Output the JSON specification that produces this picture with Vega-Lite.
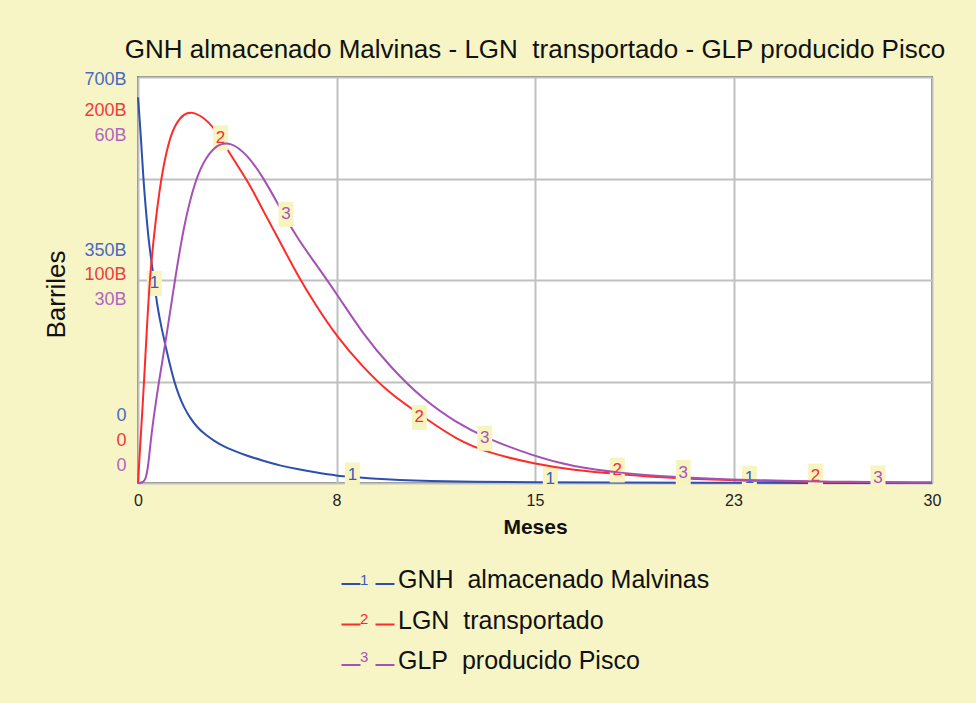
{
  "$schema": "https://vega.github.io/schema/vega-lite/v6.json",
  "width": 794,
  "height": 406,
  "autosize": {"type": "none"},
  "padding": {"left": 138, "top": 77, "right": 44, "bottom": 220},
  "background": "#F7F5C6",
  "config": {
    "font": "Liberation Sans",
    "view": {"stroke": "#7F7F7F", "strokeWidth": 2, "fill": "#FFFFFF"}
  },
  "title": {
    "text": "GNH almacenado Malvinas - LGN\u00a0 transportado - GLP producido Pisco",
    "fontSize": 26,
    "fontWeight": "normal",
    "color": "#111111",
    "anchor": "middle",
    "baseline": "alphabetic",
    "offset": -14
  },
  "datasets": {
    "curves": [
      {"series": "GNH almacenado Malvinas", "t": 0, "v": 665},
      {"series": "GNH almacenado Malvinas", "t": 0.1, "v": 605},
      {"series": "GNH almacenado Malvinas", "t": 0.2, "v": 525},
      {"series": "GNH almacenado Malvinas", "t": 0.3, "v": 470},
      {"series": "GNH almacenado Malvinas", "t": 0.4, "v": 418},
      {"series": "GNH almacenado Malvinas", "t": 0.54, "v": 372},
      {"series": "GNH almacenado Malvinas", "t": 0.73, "v": 303},
      {"series": "GNH almacenado Malvinas", "t": 0.9, "v": 265},
      {"series": "GNH almacenado Malvinas", "t": 1.05, "v": 234},
      {"series": "GNH almacenado Malvinas", "t": 1.2, "v": 205},
      {"series": "GNH almacenado Malvinas", "t": 1.36, "v": 176},
      {"series": "GNH almacenado Malvinas", "t": 1.55, "v": 150},
      {"series": "GNH almacenado Malvinas", "t": 1.74, "v": 130},
      {"series": "GNH almacenado Malvinas", "t": 2.0, "v": 110},
      {"series": "GNH almacenado Malvinas", "t": 2.24, "v": 96},
      {"series": "GNH almacenado Malvinas", "t": 2.55, "v": 83},
      {"series": "GNH almacenado Malvinas", "t": 2.87, "v": 73},
      {"series": "GNH almacenado Malvinas", "t": 3.2, "v": 64},
      {"series": "GNH almacenado Malvinas", "t": 3.5, "v": 58},
      {"series": "GNH almacenado Malvinas", "t": 4.1, "v": 47},
      {"series": "GNH almacenado Malvinas", "t": 4.73, "v": 38.5},
      {"series": "GNH almacenado Malvinas", "t": 5.36, "v": 30},
      {"series": "GNH almacenado Malvinas", "t": 6.0, "v": 24},
      {"series": "GNH almacenado Malvinas", "t": 6.75, "v": 18},
      {"series": "GNH almacenado Malvinas", "t": 7.52, "v": 12.6},
      {"series": "GNH almacenado Malvinas", "t": 8.1, "v": 10.4},
      {"series": "GNH almacenado Malvinas", "t": 8.76, "v": 8},
      {"series": "GNH almacenado Malvinas", "t": 9.9, "v": 5},
      {"series": "GNH almacenado Malvinas", "t": 11, "v": 3.5},
      {"series": "GNH almacenado Malvinas", "t": 12.5, "v": 2.3},
      {"series": "GNH almacenado Malvinas", "t": 15, "v": 1.2},
      {"series": "GNH almacenado Malvinas", "t": 18, "v": 0.6},
      {"series": "GNH almacenado Malvinas", "t": 21, "v": 0.3},
      {"series": "GNH almacenado Malvinas", "t": 25, "v": 0.15},
      {"series": "GNH almacenado Malvinas", "t": 30, "v": 0.05},
      {"series": "LGN transportado", "t": 0, "v": 0},
      {"series": "LGN transportado", "t": 0.1, "v": 22},
      {"series": "LGN transportado", "t": 0.23, "v": 50},
      {"series": "LGN transportado", "t": 0.33, "v": 75},
      {"series": "LGN transportado", "t": 0.44, "v": 100},
      {"series": "LGN transportado", "t": 0.6, "v": 122},
      {"series": "LGN transportado", "t": 0.86, "v": 150},
      {"series": "LGN transportado", "t": 1.17, "v": 169},
      {"series": "LGN transportado", "t": 1.42, "v": 177},
      {"series": "LGN transportado", "t": 1.74, "v": 182},
      {"series": "LGN transportado", "t": 2.05, "v": 183},
      {"series": "LGN transportado", "t": 2.49, "v": 180},
      {"series": "LGN transportado", "t": 2.87, "v": 175},
      {"series": "LGN transportado", "t": 3.25, "v": 167},
      {"series": "LGN transportado", "t": 3.63, "v": 159},
      {"series": "LGN transportado", "t": 4.23, "v": 147},
      {"series": "LGN transportado", "t": 4.73, "v": 134},
      {"series": "LGN transportado", "t": 5.36, "v": 119},
      {"series": "LGN transportado", "t": 6.0, "v": 103},
      {"series": "LGN transportado", "t": 6.74, "v": 87},
      {"series": "LGN transportado", "t": 7.52, "v": 72},
      {"series": "LGN transportado", "t": 8.5, "v": 57},
      {"series": "LGN transportado", "t": 9.52, "v": 44},
      {"series": "LGN transportado", "t": 10.59, "v": 34.3},
      {"series": "LGN transportado", "t": 12.04, "v": 21.2},
      {"series": "LGN transportado", "t": 13.3, "v": 14.6},
      {"series": "LGN transportado", "t": 15, "v": 9.4},
      {"series": "LGN transportado", "t": 16.45, "v": 6.4},
      {"series": "LGN transportado", "t": 18.1, "v": 4.4},
      {"series": "LGN transportado", "t": 20.5, "v": 2.1},
      {"series": "LGN transportado", "t": 23, "v": 1.1},
      {"series": "LGN transportado", "t": 26, "v": 0.5},
      {"series": "LGN transportado", "t": 30, "v": 0.2},
      {"series": "GLP producido Pisco", "t": 0, "v": 0},
      {"series": "GLP producido Pisco", "t": 0.29, "v": 0},
      {"series": "GLP producido Pisco", "t": 0.4, "v": 3},
      {"series": "GLP producido Pisco", "t": 0.48, "v": 6.3},
      {"series": "GLP producido Pisco", "t": 0.62, "v": 10.5},
      {"series": "GLP producido Pisco", "t": 0.79, "v": 15},
      {"series": "GLP producido Pisco", "t": 1.05, "v": 21},
      {"series": "GLP producido Pisco", "t": 1.39, "v": 29.9},
      {"series": "GLP producido Pisco", "t": 1.74, "v": 38.3},
      {"series": "GLP producido Pisco", "t": 2.18, "v": 45},
      {"series": "GLP producido Pisco", "t": 2.56, "v": 48.1},
      {"series": "GLP producido Pisco", "t": 3.0, "v": 50.1},
      {"series": "GLP producido Pisco", "t": 3.5, "v": 50.4},
      {"series": "GLP producido Pisco", "t": 4.11, "v": 48.6},
      {"series": "GLP producido Pisco", "t": 4.73, "v": 45.2},
      {"series": "GLP producido Pisco", "t": 5.36, "v": 40.7},
      {"series": "GLP producido Pisco", "t": 6.0, "v": 36.3},
      {"series": "GLP producido Pisco", "t": 6.62, "v": 32.9},
      {"series": "GLP producido Pisco", "t": 7.52, "v": 27.9},
      {"series": "GLP producido Pisco", "t": 8.5, "v": 22},
      {"series": "GLP producido Pisco", "t": 9.52, "v": 17.2},
      {"series": "GLP producido Pisco", "t": 10.78, "v": 12.3},
      {"series": "GLP producido Pisco", "t": 12.04, "v": 8.9},
      {"series": "GLP producido Pisco", "t": 13.1, "v": 6.7},
      {"series": "GLP producido Pisco", "t": 15, "v": 3.9},
      {"series": "GLP producido Pisco", "t": 16.45, "v": 2.4},
      {"series": "GLP producido Pisco", "t": 18.1, "v": 1.5},
      {"series": "GLP producido Pisco", "t": 20.5, "v": 0.8},
      {"series": "GLP producido Pisco", "t": 23, "v": 0.4},
      {"series": "GLP producido Pisco", "t": 26, "v": 0.18},
      {"series": "GLP producido Pisco", "t": 30, "v": 0.07}
    ],
    "markers": [
      {"series": "GNH almacenado Malvinas", "num": "1", "t": 0.62, "v": 344},
      {"series": "GNH almacenado Malvinas", "num": "1", "t": 8.1, "v": 13.8},
      {"series": "GNH almacenado Malvinas", "num": "1", "t": 15.58, "v": 6.9},
      {"series": "GNH almacenado Malvinas", "num": "1", "t": 23.1, "v": 7.8},
      {"series": "LGN transportado", "num": "2", "t": 3.12, "v": 170},
      {"series": "LGN transportado", "num": "2", "t": 10.63, "v": 32.3},
      {"series": "LGN transportado", "num": "2", "t": 18.11, "v": 6.4},
      {"series": "LGN transportado", "num": "2", "t": 25.6, "v": 3.4},
      {"series": "GLP producido Pisco", "num": "3", "t": 5.59, "v": 39.7},
      {"series": "GLP producido Pisco", "num": "3", "t": 13.1, "v": 6.6},
      {"series": "GLP producido Pisco", "num": "3", "t": 20.6, "v": 1.55},
      {"series": "GLP producido Pisco", "num": "3", "t": 27.96, "v": 0.74}
    ]
  },
  "encoding": {
    "x": {
      "field": "t",
      "type": "quantitative",
      "scale": {"domain": [0, 30], "nice": false},
      "axis": {
        "values": [0, 7.5, 15, 22.5, 30],
        "format": ".0f",
        "grid": true,
        "gridColor": "#C0C0C0",
        "gridWidth": 2,
        "ticks": false,
        "domain": false,
        "labelFlush": false,
        "labelFontSize": 16,
        "labelColor": "#222222",
        "labelPadding": 9,
        "title": "Meses",
        "titleFontSize": 21,
        "titleFontWeight": "bold",
        "titleColor": "#111111",
        "titlePadding": 8
      }
    }
  },
  "layer": [
    {
      "encoding": {
        "y": {
          "field": "v",
          "type": "quantitative",
          "scale": {"domain": [0, 700], "nice": false},
          "axis": {
            "orient": "left",
            "values": [0, 175, 350, 525, 700],
            "labelExpr": "datum.value == 700 ? '700B' : datum.value == 350 ? '350B' : datum.value == 0 ? '0' : ''",
            "labelOffset": {"expr": "datum.value == 700 ? 2 : datum.value == 350 ? -30 : -68"},
            "labelColor": "#4A6AC2",
            "labelFontSize": 18,
            "labelPadding": 12,
            "labelOverlap": false,
            "labelBound": false,
            "labelFlush": false,
            "ticks": false,
            "domain": false,
            "grid": true,
            "gridColor": "#C0C0C0",
            "gridWidth": 2,
            "title": "Barriles",
            "titleFontSize": 26,
            "titleFontWeight": "normal",
            "titleColor": "#111111",
            "titlePadding": 14,
            "titleY": 217
          }
        }
      },
      "layer": [
        {
          "data": {"name": "curves"},
          "transform": [{"filter": "datum.series == 'GNH almacenado Malvinas'"}],
          "mark": {"type": "line", "strokeWidth": 2, "interpolate": "basis"},
          "encoding": {
            "color": {
              "field": "series",
              "type": "nominal",
              "scale": {"domain": ["GNH almacenado Malvinas", "LGN transportado", "GLP producido Pisco"], "range": ["#2D4FAF", "#FF2B2B", "#A352B3"]},
              "legend": {
                "orient": "none", "legendX": 217.5, "legendY": 490.5, "title": null, "padding": 0,
                "symbolType": "M-2.65,0.4H-0.75M0.75,0.4H2.65", "symbolSize": 400, "symbolStrokeWidth": 2,
                "labelFontSize": 25, "labelColor": "#111111", "labelOffset": 17.5, "labelLimit": 600,
                "rowPadding": 14.5,
                "labelExpr": "replace(datum.label, ' ', '\u00a0 ')"
              }
            }
          }
        },
        {
          "data": {"name": "markers"},
          "transform": [{"filter": "datum.series == 'GNH almacenado Malvinas'"}],
          "mark": {"type": "point", "filled": true, "fill": "#F8F4C0", "opacity": 1, "strokeWidth": 0, "size": 625},
          "encoding": {
            "shape": {
              "field": "num", "type": "nominal",
              "scale": {"domain": ["1", "2", "3"], "range": ["M-0.6,-1H0.6V1H-0.6Z", "M-0.6,-1H0.6V1H-0.6Z", "M-0.6,-1H0.6V1H-0.6Z"]},
              "legend": {
                "orient": "none", "legendX": 200, "legendY": 492, "title": null, "padding": 0,
                "symbolOpacity": 0, "symbolSize": 400,
                "labelFontSize": 15, "labelOffset": 0, "rowPadding": 17.5,
                "labelColor": {"expr": "datum.value == '1' ? '#3A5BBE' : datum.value == '2' ? '#F03030' : '#A855B8'"}
              }
            }
          }
        },
        {
          "data": {"name": "markers"},
          "transform": [{"filter": "datum.series == 'GNH almacenado Malvinas'"}],
          "mark": {"type": "text", "color": "#3A5BBE", "fontSize": 17},
          "encoding": {"text": {"field": "num"}}
        }
      ]
    },
    {
      "encoding": {
        "y": {
          "field": "v",
          "type": "quantitative",
          "scale": {"domain": [0, 200], "nice": false},
          "axis": {
            "orient": "left",
            "values": [0, 100, 200],
            "labelExpr": "datum.value == 0 ? '0' : datum.value + 'B'",
            "labelOffset": {"expr": "datum.value == 200 ? 33 : datum.value == 100 ? -6 : -43"},
            "labelColor": "#EE3B3B",
            "labelFontSize": 18,
            "labelPadding": 12,
            "labelOverlap": false,
            "labelBound": false,
            "labelFlush": false,
            "ticks": false,
            "domain": false,
            "grid": false,
            "title": null
          }
        }
      },
      "layer": [
        {
          "data": {"name": "curves"},
          "transform": [{"filter": "datum.series == 'LGN transportado'"}],
          "mark": {"type": "line", "strokeWidth": 2, "interpolate": "basis"},
          "encoding": {
            "color": {
              "field": "series",
              "type": "nominal",
              "scale": {"domain": ["GNH almacenado Malvinas", "LGN transportado", "GLP producido Pisco"], "range": ["#2D4FAF", "#FF2B2B", "#A352B3"]},
              "legend": {
                "orient": "none", "legendX": 217.5, "legendY": 490.5, "title": null, "padding": 0,
                "symbolType": "M-2.65,0.4H-0.75M0.75,0.4H2.65", "symbolSize": 400, "symbolStrokeWidth": 2,
                "labelFontSize": 25, "labelColor": "#111111", "labelOffset": 17.5, "labelLimit": 600,
                "rowPadding": 14.5,
                "labelExpr": "replace(datum.label, ' ', '\u00a0 ')"
              }
            }
          }
        },
        {
          "data": {"name": "markers"},
          "transform": [{"filter": "datum.series == 'LGN transportado'"}],
          "mark": {"type": "point", "filled": true, "fill": "#F8F4C0", "opacity": 1, "strokeWidth": 0, "size": 625},
          "encoding": {
            "shape": {
              "field": "num", "type": "nominal",
              "scale": {"domain": ["1", "2", "3"], "range": ["M-0.6,-1H0.6V1H-0.6Z", "M-0.6,-1H0.6V1H-0.6Z", "M-0.6,-1H0.6V1H-0.6Z"]},
              "legend": {
                "orient": "none", "legendX": 200, "legendY": 492, "title": null, "padding": 0,
                "symbolOpacity": 0, "symbolSize": 400,
                "labelFontSize": 15, "labelOffset": 0, "rowPadding": 17.5,
                "labelColor": {"expr": "datum.value == '1' ? '#3A5BBE' : datum.value == '2' ? '#F03030' : '#A855B8'"}
              }
            }
          }
        },
        {
          "data": {"name": "markers"},
          "transform": [{"filter": "datum.series == 'LGN transportado'"}],
          "mark": {"type": "text", "color": "#F03030", "fontSize": 17},
          "encoding": {"text": {"field": "num"}}
        }
      ]
    },
    {
      "encoding": {
        "y": {
          "field": "v",
          "type": "quantitative",
          "scale": {"domain": [0, 60], "nice": false},
          "axis": {
            "orient": "left",
            "values": [0, 30, 60],
            "labelExpr": "datum.value == 0 ? '0' : datum.value + 'B'",
            "labelOffset": {"expr": "datum.value == 60 ? 58 : datum.value == 30 ? 19 : -18"},
            "labelColor": "#B066C0",
            "labelFontSize": 18,
            "labelPadding": 12,
            "labelOverlap": false,
            "labelBound": false,
            "labelFlush": false,
            "ticks": false,
            "domain": false,
            "grid": false,
            "title": null
          }
        }
      },
      "layer": [
        {
          "data": {"name": "curves"},
          "transform": [{"filter": "datum.series == 'GLP producido Pisco'"}],
          "mark": {"type": "line", "strokeWidth": 2, "interpolate": "basis"},
          "encoding": {
            "color": {
              "field": "series",
              "type": "nominal",
              "scale": {"domain": ["GNH almacenado Malvinas", "LGN transportado", "GLP producido Pisco"], "range": ["#2D4FAF", "#FF2B2B", "#A352B3"]},
              "legend": {
                "orient": "none", "legendX": 217.5, "legendY": 490.5, "title": null, "padding": 0,
                "symbolType": "M-2.65,0.4H-0.75M0.75,0.4H2.65", "symbolSize": 400, "symbolStrokeWidth": 2,
                "labelFontSize": 25, "labelColor": "#111111", "labelOffset": 17.5, "labelLimit": 600,
                "rowPadding": 14.5,
                "labelExpr": "replace(datum.label, ' ', '\u00a0 ')"
              }
            }
          }
        },
        {
          "data": {"name": "markers"},
          "transform": [{"filter": "datum.series == 'GLP producido Pisco'"}],
          "mark": {"type": "point", "filled": true, "fill": "#F8F4C0", "opacity": 1, "strokeWidth": 0, "size": 625},
          "encoding": {
            "shape": {
              "field": "num", "type": "nominal",
              "scale": {"domain": ["1", "2", "3"], "range": ["M-0.6,-1H0.6V1H-0.6Z", "M-0.6,-1H0.6V1H-0.6Z", "M-0.6,-1H0.6V1H-0.6Z"]},
              "legend": {
                "orient": "none", "legendX": 200, "legendY": 492, "title": null, "padding": 0,
                "symbolOpacity": 0, "symbolSize": 400,
                "labelFontSize": 15, "labelOffset": 0, "rowPadding": 17.5,
                "labelColor": {"expr": "datum.value == '1' ? '#3A5BBE' : datum.value == '2' ? '#F03030' : '#A855B8'"}
              }
            }
          }
        },
        {
          "data": {"name": "markers"},
          "transform": [{"filter": "datum.series == 'GLP producido Pisco'"}],
          "mark": {"type": "text", "color": "#A855B8", "fontSize": 17},
          "encoding": {"text": {"field": "num"}}
        }
      ]
    }
  ],
  "resolve": {"scale": {"y": "independent"}, "axis": {"y": "independent"}}
}
